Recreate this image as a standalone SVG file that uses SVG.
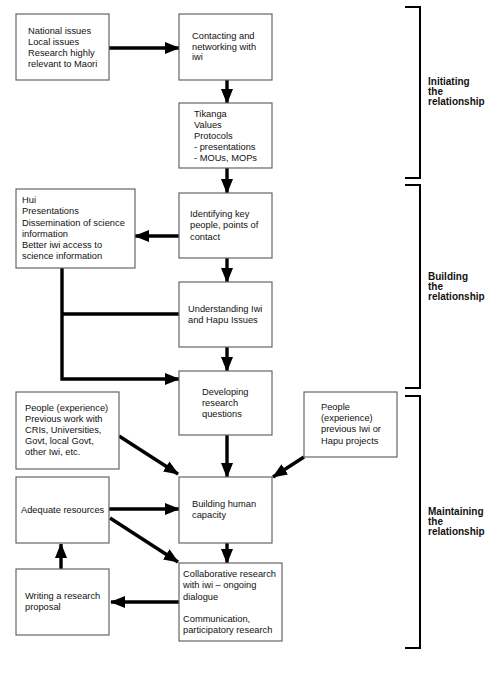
<svg xmlns="http://www.w3.org/2000/svg" width="500" height="675" viewBox="0 0 500 675">
<defs>
<marker id="ah" markerUnits="userSpaceOnUse" markerWidth="15" markerHeight="12" refX="14" refY="6" orient="auto">
<path d="M0,0 L15,6 L0,12 z" fill="#000"/>
</marker>
<style>
.box{fill:#fff;stroke:#666;stroke-width:1.2}
.t{font-family:"Liberation Sans",Arial,sans-serif;font-size:9.3px;fill:#111}
.b{font-family:"Liberation Sans",Arial,sans-serif;font-size:10px;font-weight:bold;fill:#111}
.c{fill:none;stroke:#000;stroke-width:3.4}
.br{fill:none;stroke:#000;stroke-width:2}
</style>
</defs>
<rect width="500" height="675" fill="#fff"/>
<g id="connectors">
<path class="c" d="M109,48 L179,48" marker-end="url(#ah)"/>
<path class="c" d="M227,80 L227,103" marker-end="url(#ah)"/>
<path class="c" d="M227,168 L227,193" marker-end="url(#ah)"/>
<path class="c" d="M179,236 L135,236" marker-end="url(#ah)"/>
<path class="c" d="M227,258 L227,282" marker-end="url(#ah)"/>
<path class="c" d="M227,347 L227,371" marker-end="url(#ah)"/>
<path class="c" d="M62,268 L62,379 L179,379" marker-end="url(#ah)"/>
<path class="c" d="M179,314 L62,314"/>
<path class="c" d="M227,435 L227,477" marker-end="url(#ah)"/>
<path class="c" d="M119,436 L178,474" marker-end="url(#ah)"/>
<path class="c" d="M304,457 L273,477" marker-end="url(#ah)"/>
<path class="c" d="M109,509 L179,509" marker-end="url(#ah)"/>
<path class="c" d="M110,518 L178,562" marker-end="url(#ah)"/>
<path class="c" d="M227,543 L227,563" marker-end="url(#ah)"/>
<path class="c" d="M179,602 L111,602" marker-end="url(#ah)"/>
<path class="c" d="M61,569 L61,544" marker-end="url(#ah)"/>
</g>
<g id="n1"><rect class="box" x="16" y="14" width="93" height="66"/>
<text class="t" x="28" y="33.5">National issues</text><text class="t" x="28" y="44.5">Local issues</text><text class="t" x="28" y="56">Research highly</text><text class="t" x="28" y="67">relevant to Maori</text></g>
<g id="n2"><rect class="box" x="179" y="14" width="93" height="66"/>
<text class="t" x="192" y="38.5">Contacting and</text><text class="t" x="192" y="49.5">networking with</text><text class="t" x="192" y="60">iwi</text></g>
<g id="n3"><rect class="box" x="179" y="103" width="93" height="65"/>
<text class="t" x="194" y="117">Tikanga</text><text class="t" x="194" y="128">Values</text><text class="t" x="194" y="139">Protocols</text><text class="t" x="194" y="150">- presentations</text><text class="t" x="194" y="161">- MOUs, MOPs</text></g>
<g id="n4"><rect class="box" x="179" y="193" width="93" height="65"/>
<text class="t" x="190" y="217">Identifying key</text><text class="t" x="190" y="228">people, points of</text><text class="t" x="190" y="239.5">contact</text></g>
<g id="n5"><rect class="box" x="179" y="282" width="93" height="65"/>
<text class="t" x="188" y="312">Understanding Iwi</text><text class="t" x="188" y="323">and Hapu Issues</text></g>
<g id="n6"><rect class="box" x="179" y="371" width="93" height="64"/>
<text class="t" x="202" y="395">Developing</text><text class="t" x="202" y="406">research</text><text class="t" x="202" y="417">questions</text></g>
<g id="n7"><rect class="box" x="16" y="189" width="119" height="79"/>
<text class="t" x="22" y="202.5">Hui</text><text class="t" x="22" y="214">Presentations</text><text class="t" x="22" y="225.5">Dissemination of science</text><text class="t" x="22" y="236.5">information</text><text class="t" x="22" y="247.5">Better iwi access to</text><text class="t" x="22" y="258.5">science information</text></g>
<g id="n8"><rect class="box" x="16" y="392" width="103" height="77"/>
<text class="t" x="25" y="410.5">People (experience)</text><text class="t" x="25" y="421.5">Previous work with</text><text class="t" x="25" y="432.5">CRIs, Universities,</text><text class="t" x="25" y="444">Govt, local Govt,</text><text class="t" x="25" y="455">other Iwi, etc.</text></g>
<g id="n9"><rect class="box" x="16" y="477" width="93" height="66"/>
<text class="t" x="21" y="512.5">Adequate resources</text></g>
<g id="n10"><rect class="box" x="179" y="477" width="93" height="66"/>
<text class="t" x="192" y="507">Building human</text><text class="t" x="192" y="518">capacity</text></g>
<g id="n11"><rect class="box" x="304" y="392" width="93" height="65"/>
<text class="t" x="321" y="409.5">People</text><text class="t" x="321" y="420.5">(experience)</text><text class="t" x="321" y="432">previous Iwi or</text><text class="t" x="321" y="443.5">Hapu projects</text></g>
<g id="n12"><rect class="box" x="179" y="563" width="103" height="78"/>
<text class="t" x="183" y="577">Collaborative research</text><text class="t" x="183" y="588">with iwi – ongoing</text><text class="t" x="183" y="599.5">dialogue</text><text class="t" x="183" y="622">Communication,</text><text class="t" x="183" y="633">participatory research</text></g>
<g id="n13"><rect class="box" x="16" y="569" width="93" height="66"/>
<text class="t" x="25" y="599">Writing a research</text><text class="t" x="25" y="610">proposal</text></g>
<g id="phase1"><path class="br" d="M405,7 L420,7 L420,178 L405,178"/>
<text class="b" x="428" y="85">Initiating</text><text class="b" x="428" y="95">the</text><text class="b" x="428" y="105">relationship</text></g>
<g id="phase2"><path class="br" d="M405,185 L420,185 L420,388 L405,388"/>
<text class="b" x="428" y="279.5">Building</text><text class="b" x="428" y="289.5">the</text><text class="b" x="428" y="299.5">relationship</text></g>
<g id="phase3"><path class="br" d="M405,396 L420,396 L420,648 L405,648"/>
<text class="b" x="428" y="515">Maintaining</text><text class="b" x="428" y="525">the</text><text class="b" x="428" y="535">relationship</text></g>
</svg>
